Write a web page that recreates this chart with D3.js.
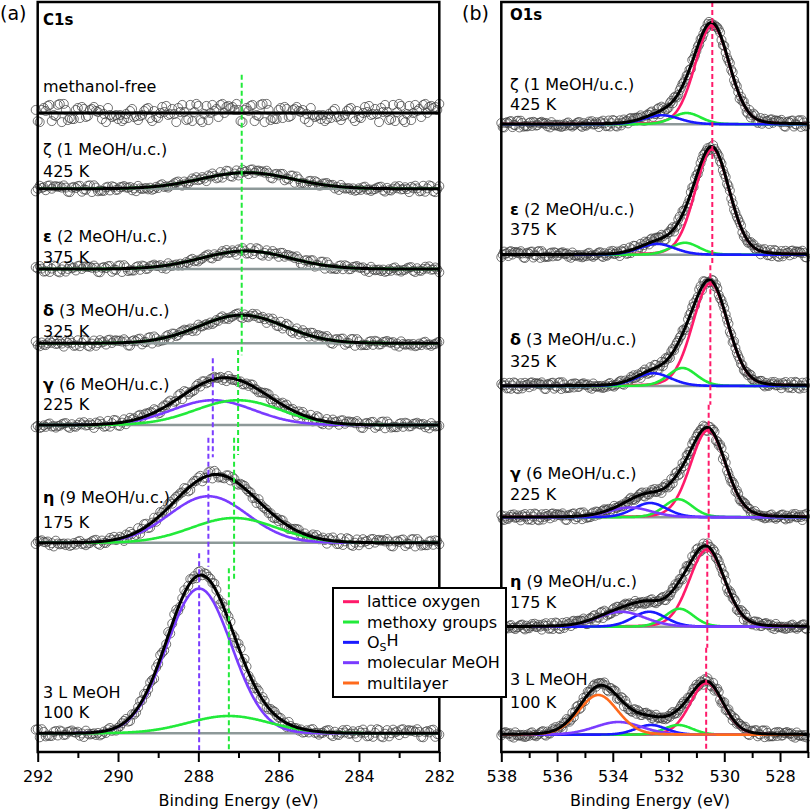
<!DOCTYPE html>
<html>
<head>
<meta charset="utf-8">
<script src="https://cdn.jsdelivr.net/npm/d3@7"></script>
<style>
  body { margin: 0; background: #fff; }
  text { font-family: "DejaVu Sans", sans-serif; }
</style>
</head>
<body>
<svg id="fig" width="810" height="812"></svg>
<script>
// ---------- data (intensity in arbitrary units, energies in eV) ----------
const c1sGreek = ["", "ζ", "ε", "δ", "γ", "η", ""];
const c1sDose  = ["methanol-free", " (1 MeOH/u.c.)", " (2 MeOH/u.c.)", " (3 MeOH/u.c.)", " (6 MeOH/u.c.)", " (9 MeOH/u.c.)", "3 L MeOH"];
const c1sTemp  = ["", "425 K", "375 K", "325 K", "225 K", "175 K", "100 K"];
const c1sOffset = [85.2, 75.1, 64.4, 54.5, 43.6, 27.9, 2.5];
const c1sNoise  = [1.35, 0.5, 0.5, 0.5, 0.5, 0.55, 0.6];
// [component, centre, height, fwhm]
const c1sPeaks = [
  [],
  [["methoxy", 286.80, 2.15, 2.7]],
  [["methoxy", 286.82, 2.4, 2.6]],
  [["methoxy", 286.92, 3.75, 2.5]],
  [["molecular", 287.64, 3.3, 2.4], ["methoxy", 287.01, 3.3, 2.5]],
  [["molecular", 287.75, 6.2, 2.3], ["methoxy", 287.11, 3.3, 2.5]],
  [["molecular", 287.98, 19.3, 1.9], ["methoxy", 287.24, 2.3, 2.4]]
];
// dashed markers: [component, energy, from, to]
const c1sMarks = [
  ["methoxy", 286.92, 90.3, 52.9],
  ["methoxy", 287.01, 53.6, 39.6],
  ["methoxy", 287.11, 41.9, 22.7],
  ["methoxy", 287.24, 24.5, 0],
  ["molecular", 287.64, 52.5, 39.3],
  ["molecular", 287.75, 41.9, 24.7],
  ["molecular", 287.98, 26.5, 0]
];

const o1sGreek = ["ζ", "ε", "δ", "γ", "η", ""];
const o1sDose  = [" (1 MeOH/u.c.)", " (2 MeOH/u.c.)", " (3 MeOH/u.c.)", " (6 MeOH/u.c.)", " (9 MeOH/u.c.)", "3 L MeOH"];
const o1sTemp  = ["425 K", "375 K", "325 K", "225 K", "175 K", "100 K"];
const o1sOffset = [83.7, 66.3, 48.8, 31.3, 16.7, 2.3];
const o1sNoise  = [0.5, 0.5, 0.5, 0.5, 0.5, 0.5];
const o1sPeaks = [
  [["lattice", 530.43, 13.2, 1.45], ["methoxy", 531.35, 1.5, 1.2], ["osh", 532.24, 1.2, 1.5]],
  [["lattice", 530.43, 14.1, 1.45], ["methoxy", 531.41, 1.6, 1.2], ["osh", 532.42, 1.45, 1.5]],
  [["lattice", 530.50, 13.7, 1.5], ["methoxy", 531.50, 2.4, 1.2], ["osh", 532.55, 1.7, 1.5]],
  [["lattice", 530.58, 11.6, 1.5], ["methoxy", 531.65, 2.4, 1.2], ["osh", 532.66, 1.9, 1.4], ["molecular", 533.38, 1.3, 1.8]],
  [["lattice", 530.62, 10.3, 1.5], ["methoxy", 531.61, 2.4, 1.2], ["osh", 532.69, 2.0, 1.4], ["molecular", 533.70, 2.0, 2.0]],
  [["lattice", 530.63, 6.9, 1.4], ["methoxy", 531.65, 1.3, 1.2], ["osh", 532.63, 1.3, 1.3], ["molecular", 533.80, 1.7, 2.0], ["multilayer", 534.52, 5.3, 1.65]]
];
const o1sMarks = [
  ["lattice", 530.43, 100, 64.9],
  ["lattice", 530.50, 64.9, 46.3],
  ["lattice", 530.56, 46.3, 28.3],
  ["lattice", 530.61, 28.3, 13.9],
  ["lattice", 530.65, 13.9, 0]
];

// hand-typed residual pattern for the measured points
const resid = [0.3,-0.5,0.8,-0.2,-0.9,0.4,0.1,-0.6,0.7,-0.3,0.5,-0.8,0.2,0.9,-0.4,-0.1,0.6,-0.7,0.3,-0.2,
  0.8,-0.5,-0.9,0.4,0.0,-0.3,0.7,0.2,-0.6,0.5,-0.1,0.9,-0.8,0.3,-0.4,0.6,-0.2,-0.7,0.1,0.8,
  -0.5,0.4,-0.9,0.2,0.5,-0.3,0.7,-0.6,0.0,0.3,-0.8,0.6,-0.1,0.9,-0.4,0.2,-0.7,0.5,-0.2,0.8,
  -0.6,0.1,0.4,-0.9,0.3,-0.5,0.7,-0.3,0.6,-0.8,0.2,-0.1,0.9,-0.4,0.5,-0.7,0.0,0.8,-0.2,0.3,
  -0.6,0.4,-0.9,0.7,-0.3,0.1,-0.5,0.6,-0.8,0.2,0.9,-0.1,-0.4,0.5,-0.7,0.3,0.8,-0.6,0.1,-0.2,0.4];

const compColor = {
  lattice: "#ff1a6a", methoxy: "#22ea3a", osh: "#1a1aff",
  molecular: "#7a3cff", multilayer: "#ff6a1c"
};
const legendItems = [
  ["lattice", "lattice oxygen"], ["methoxy", "methoxy groups"], ["osh", "OSH"],
  ["molecular", "molecular MeOH"], ["multilayer", "multilayer"]
];

// ---------- layout ----------
const svg = d3.select("#fig");
const plotTop = 2, plotBottom = 752;
const y = d3.scaleLinear().domain([0, 100]).range([plotBottom, plotTop]);

function shape(E, p, mix) {
  const d = (E - p[1]) / p[3];
  return p[2] * ((1 - mix) * Math.exp(-4 * Math.LN2 * d * d) + mix / (1 + 4 * d * d));
}

function drawPanel(cfg) {
  const x = cfg.x;
  const g = svg.append("g");
  const pts = d3.range(cfg.data[0], cfg.data[1] - 1e-9, -0.05);
  const fine = d3.range(cfg.domain[0], cfg.domain[1] - 1e-9, -0.02).concat([cfg.domain[1]]);

  cfg.offset.forEach((off, k) => {
    const peaks = cfg.peaks[k];
    const fit = E => off + d3.sum(peaks, p => shape(E, p, cfg.mix));
    const sg = g.append("g");

    sg.append("g").selectAll("circle").data(pts).join("circle")
      .attr("cx", E => x(E))
      .attr("cy", (E, i) => y(fit(E) + cfg.noise[k] * resid[(i * 11 + 37 * k) % resid.length]))
      .attr("r", 4.5)
      .attr("fill", "none")
      .attr("stroke", "#444")
      .attr("stroke-width", 0.75);

    sg.append("line")
      .attr("x1", x(cfg.domain[0])).attr("x2", x(cfg.domain[1]))
      .attr("y1", y(off)).attr("y2", y(off))
      .attr("stroke", "#8d9999").attr("stroke-width", 2.5);

    peaks.forEach(p => {
      sg.append("path")
        .datum(fine)
        .attr("fill", "none")
        .attr("stroke", compColor[p[0]])
        .attr("stroke-width", 2.6)
        .attr("d", d3.line().x(E => x(E)).y(E => y(off + shape(E, p, cfg.mix))));
    });

    sg.append("path")
      .datum(fine)
      .attr("fill", "none")
      .attr("stroke", "#000")
      .attr("stroke-width", 3)
      .attr("d", d3.line().x(E => x(E)).y(E => y(fit(E))));

    // labels
    const rise = cfg.labelRise[k];
    const t1 = sg.append("text")
      .attr("x", cfg.labelX).attr("y", y(off) - rise[0])
      .attr("font-size", 16);
    if (cfg.greek[k]) {
      t1.append("tspan").attr("font-weight", cfg.greek[k] === "ζ" ? "normal" : "bold").text(cfg.greek[k]);
    }
    t1.append("tspan").text(cfg.dose[k]);
    if (cfg.temp[k]) {
      sg.append("text")
        .attr("x", cfg.labelX).attr("y", y(off) - rise[1])
        .attr("font-size", 16).text(cfg.temp[k]);
    }
  });

  // dashed peak markers
  g.selectAll("line.mark").data(cfg.marks).join("line")
    .attr("class", "mark")
    .attr("x1", d => x(d[1])).attr("x2", d => x(d[1]))
    .attr("y1", d => y(d[2])).attr("y2", d => y(d[3]))
    .attr("stroke", d => compColor[d[0]])
    .attr("stroke-width", 2)
    .attr("stroke-dasharray", "5,3");

  // frame
  svg.append("rect")
    .attr("x", x.range()[0]).attr("y", plotTop)
    .attr("width", x.range()[1] - x.range()[0]).attr("height", plotBottom - plotTop)
    .attr("fill", "none").attr("stroke", "#000").attr("stroke-width", 2.5);

  // axis
  const major = d3.range(cfg.domain[0], cfg.domain[1] - 0.01, -2);
  const minor = d3.range(cfg.domain[0], cfg.domain[1] - 0.01, -1).filter(v => !major.includes(v));
  const ax = svg.append("g").attr("transform", `translate(0,${plotBottom})`)
    .call(d3.axisBottom(x).tickValues(major).tickFormat(d3.format("d")).tickSize(10).tickPadding(8.6).tickSizeOuter(0));
  ax.select(".domain").remove();
  ax.selectAll(".tick line").attr("stroke-width", 2);
  ax.selectAll(".tick text").attr("font-size", 16).attr("font-family", "DejaVu Sans").attr("fill", "#000");
  const mx = svg.append("g").attr("transform", `translate(0,${plotBottom})`)
    .call(d3.axisBottom(x).tickValues(minor).tickFormat("").tickSize(6).tickSizeOuter(0));
  mx.select(".domain").remove();
  mx.selectAll(".tick line").attr("stroke-width", 2);

  svg.append("text")
    .attr("x", cfg.titleX).attr("y", 806)
    .attr("text-anchor", "middle").attr("font-size", 16)
    .text("Binding Energy (eV)");

  svg.append("text")
    .attr("x", cfg.labelX).attr("y", cfg.coreY)
    .attr("font-size", 15).attr("font-weight", "bold")
    .text(cfg.core);

  svg.append("text")
    .attr("x", cfg.tagX).attr("y", 20)
    .attr("font-size", 19)
    .text(cfg.tag);
}

drawPanel({
  x: d3.scaleLinear().domain([292, 282]).range([37.7, 439.3]),
  domain: [292, 282], data: [292.05, 281.99], mix: 0,
  offset: c1sOffset, peaks: c1sPeaks, noise: c1sNoise, marks: c1sMarks,
  greek: c1sGreek, dose: c1sDose, temp: c1sTemp,
  labelRise: [[21], [34, 12], [27, 6], [27, 6], [35, 15], [40, 15], [35, 15]],
  labelX: 43, core: "C1s", coreY: 25, tag: "(a)", tagX: 0, titleX: 238.5
});

drawPanel({
  x: d3.scaleLinear().domain([538, 527]).range([501.3, 807.9]),
  domain: [538, 527], data: [538.0, 527.04], mix: 0.12,
  offset: o1sOffset, peaks: o1sPeaks, noise: o1sNoise, marks: o1sMarks,
  greek: o1sGreek, dose: o1sDose, temp: o1sTemp,
  labelRise: [[34, 14], [40, 20], [41, 19], [38, 17], [40, 19], [50, 27]],
  labelX: 510, core: "O1s", coreY: 20, tag: "(b)", tagX: 462, titleX: 650
});

// legend
const lg = svg.append("g");
lg.append("rect")
  .attr("x", 333).attr("y", 588).attr("width", 173).attr("height", 109)
  .attr("fill", "#fff").attr("stroke", "#000").attr("stroke-width", 2);
const rowY = d3.scalePoint().domain(legendItems.map(d => d[0])).range([601.7, 683]);
legendItems.forEach(([key, name]) => {
  lg.append("line")
    .attr("x1", 343).attr("x2", 359)
    .attr("y1", rowY(key)).attr("y2", rowY(key))
    .attr("stroke", compColor[key]).attr("stroke-width", 3);
  const t = lg.append("text")
    .attr("x", 367).attr("y", rowY(key)).attr("dy", "0.35em")
    .attr("font-size", 16);
  if (key === "osh") {
    t.append("tspan").text("O");
    t.append("tspan").attr("font-size", 11).attr("dy", "0.3em").text("S");
    t.append("tspan").attr("dy", "-0.3em").text("H");
  } else {
    t.text(name);
  }
});
</script>
</body>
</html>
